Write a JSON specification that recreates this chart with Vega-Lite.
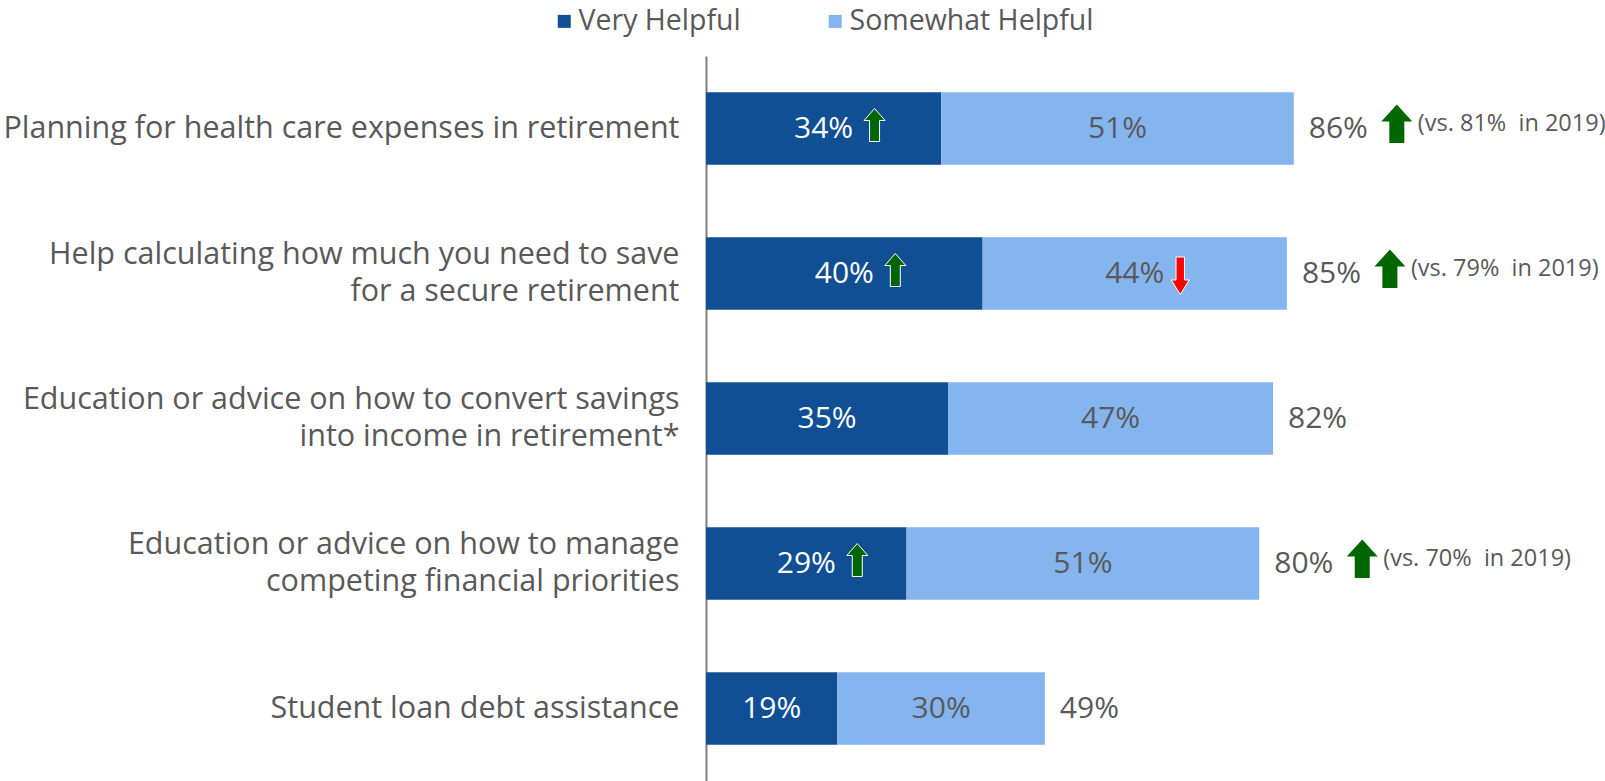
{
  "$schema": "https://vega.github.io/schema/vega-lite/v6.json",
  "autosize": {"type": "none"},
  "width": 899,
  "height": 725,
  "padding": {"left": 706, "top": 56, "right": 0, "bottom": 0},
  "background": "white",
  "config": {"view": {"stroke": null}, "font": "Open Sans"},
  "data": {
    "values": [
      {"item": "Planning for health care expenses in retirement", "type": "Very Helpful", "value": 34, "label": "34%", "arrow": "up", "total": "", "totArrow": "", "note": ""},
      {"item": "Planning for health care expenses in retirement", "type": "Somewhat Helpful", "value": 51, "label": "51%", "arrow": "", "total": "86%", "totArrow": "up", "note": "(vs. 81%\u00a0 in 2019)"},
      {"item": "Help calculating how much you need to save\nfor a secure retirement", "type": "Very Helpful", "value": 40, "label": "40%", "arrow": "up", "total": "", "totArrow": "", "note": ""},
      {"item": "Help calculating how much you need to save\nfor a secure retirement", "type": "Somewhat Helpful", "value": 44, "label": "44%", "arrow": "down", "total": "85%", "totArrow": "up", "note": "(vs. 79%\u00a0 in 2019)"},
      {"item": "Education or advice on how to convert savings\ninto income in retirement*", "type": "Very Helpful", "value": 35, "label": "35%", "arrow": "", "total": "", "totArrow": "", "note": ""},
      {"item": "Education or advice on how to convert savings\ninto income in retirement*", "type": "Somewhat Helpful", "value": 47, "label": "47%", "arrow": "", "total": "82%", "totArrow": "", "note": ""},
      {"item": "Education or advice on how to manage\ncompeting financial priorities", "type": "Very Helpful", "value": 29, "label": "29%", "arrow": "up", "total": "", "totArrow": "", "note": ""},
      {"item": "Education or advice on how to manage\ncompeting financial priorities", "type": "Somewhat Helpful", "value": 51, "label": "51%", "arrow": "", "total": "80%", "totArrow": "up", "note": "(vs. 70%\u00a0 in 2019)"},
      {"item": "Student loan debt assistance", "type": "Very Helpful", "value": 19, "label": "19%", "arrow": "", "total": "", "totArrow": "", "note": ""},
      {"item": "Student loan debt assistance", "type": "Somewhat Helpful", "value": 30, "label": "30%", "arrow": "", "total": "49%", "totArrow": "", "note": ""}
    ]
  },
  "encoding": {
    "y": {
      "field": "item",
      "type": "nominal",
      "sort": null,
      "scale": {"paddingInner": 0.5, "paddingOuter": 0.25},
      "axis": {
        "title": null,
        "domainColor": "#7F7F7F",
        "domainWidth": 2,
        "ticks": false,
        "labelPadding": 27,
        "labelFontSize": 30.5,
        "labelColor": "#595959",
        "labelLimit": 0,
        "labelLineHeight": 37,
        "labelFont": "Open Sans",
        "labelOffset": {"condition": {"test": "indexof(datum.value, '\\n') >= 0", "value": -18.5}, "value": 0},
        "labelExpr": "split(datum.value, '\\n')"
      }
    }
  },
  "layer": [
    {
      "mark": {"type": "bar"},
      "encoding": {
        "x": {"field": "value", "type": "quantitative", "stack": "zero", "scale": {"domain": [0, 130]}, "axis": null},
        "color": {
          "field": "type",
          "type": "nominal",
          "scale": {"domain": ["Very Helpful", "Somewhat Helpful"], "range": ["#114F95", "#84B5EF"]},
          "legend": {
            "orient": "none",
            "legendX": -156,
            "legendY": -49,
            "direction": "horizontal",
            "title": null,
            "symbolType": "square",
            "symbolSize": 169,
            "symbolStrokeWidth": 0,
            "labelFontSize": 28.5,
            "labelColor": "#595959",
            "labelFont": "Open Sans",
            "labelLimit": 0,
            "labelOffset": 0,
            "columnPadding": 80,
            "padding": 0
          }
        },
        "order": {"field": "type", "sort": "descending"}
      }
    },
    {
      "mark": {"type": "text", "fontSize": 30, "baseline": "middle"},
      "encoding": {
        "x": {"field": "value", "type": "quantitative", "stack": "zero", "bandPosition": 0.5},
        "detail": {"field": "type"},
        "order": {"field": "type", "sort": "descending"},
        "text": {"field": "label"},
        "color": {"condition": {"test": "datum.type === 'Very Helpful'", "value": "white"}, "value": "#595959"}
      }
    },
    {
      "transform": [{"filter": "datum.arrow !== ''"}],
      "mark": {"type": "point", "filled": true, "size": 4, "stroke": "white", "strokeWidth": 1, "opacity": 1},
      "encoding": {
        "x": {"field": "value", "type": "quantitative", "stack": "zero", "bandPosition": 0.5},
        "detail": {"field": "type"},
        "order": {"field": "type", "sort": "descending"},
        "shape": {
          "field": "arrow",
          "type": "nominal",
          "scale": {
            "domain": ["up", "down"],
            "range": [
              "M 51 -20 L 61.5 -8 L 56 -8 L 56 13 L 46 13 L 46 -8 L 40.5 -8 Z",
              "M 45.5 21 L 54.5 6.5 L 49.7 6.5 L 49.7 -16.5 L 41.3 -16.5 L 41.3 6.5 L 36.5 6.5 Z"
            ]
          },
          "legend": null
        },
        "fill": {
          "field": "arrow",
          "type": "nominal",
          "scale": {"domain": ["up", "down"], "range": ["#006600", "#FF0000"]},
          "legend": null
        }
      }
    },
    {
      "mark": {"type": "text", "fontSize": 30, "baseline": "middle", "align": "left", "dx": 15, "color": "#595959"},
      "encoding": {
        "x": {"field": "value", "type": "quantitative", "stack": "zero"},
        "detail": {"field": "type"},
        "order": {"field": "type", "sort": "descending"},
        "text": {"field": "total"}
      }
    },
    {
      "mark": {"type": "point", "filled": true, "size": 4, "strokeWidth": 0, "color": "#006600", "shape": "M 103 -24 L 118.5 -7 L 110.5 -7 L 110.5 14.5 L 95.5 14.5 L 95.5 -7 L 87.5 -7 Z"},
      "encoding": {
        "x": {"field": "value", "type": "quantitative", "stack": "zero"},
        "detail": {"field": "type"},
        "order": {"field": "type", "sort": "descending"},
        "opacity": {"condition": {"test": "datum.totArrow === 'up'", "value": 1}, "value": 0}
      }
    },
    {
      "mark": {"type": "text", "fontSize": 23.5, "baseline": "middle", "align": "left", "dx": 124, "dy": -5, "color": "#595959"},
      "encoding": {
        "x": {"field": "value", "type": "quantitative", "stack": "zero"},
        "detail": {"field": "type"},
        "order": {"field": "type", "sort": "descending"},
        "text": {"field": "note"}
      }
    }
  ]
}
